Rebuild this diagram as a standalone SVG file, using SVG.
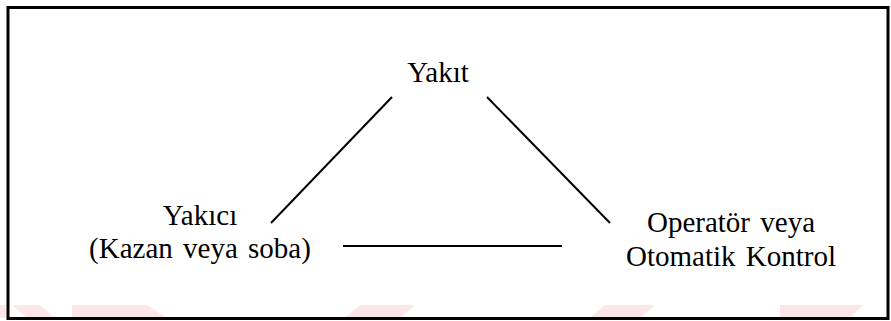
<svg xmlns="http://www.w3.org/2000/svg" width="891" height="321" viewBox="0 0 891 321">
  <style>
    .lbl { font-family: "Liberation Serif", Tinos, "Times New Roman", "DejaVu Serif", serif; font-size: 29px; fill: #000; text-anchor: middle; word-spacing: 3px; }
    .edge { stroke: #000; stroke-width: 2; fill: none; stroke-linecap: butt; }
    .wm { fill: #fce6e9; }
  </style>
  <rect width="891" height="321" fill="#fff"/>
  <g id="watermark">
    <polygon class="wm" points="0,305 8,305 8,318 0,318"/>
    <polygon class="wm" points="12,305 40,305 55,318 27,318"/>
    <polygon class="wm" points="72,305 147,305 167,318 72,318"/>
    <polygon class="wm" points="345,318 400,318 415,305 360,305"/>
    <polygon class="wm" points="590,318 640,318 655,305 605,305"/>
    <polygon class="wm" points="780,318 850,318 863,305 780,305"/>
  </g>
  <rect id="frame" x="8" y="7.5" width="880" height="311" fill="none" stroke="#000" stroke-width="3"/>
  <g id="connectors">
    <line class="edge" x1="392" y1="97" x2="271" y2="223"/>
    <line class="edge" x1="487" y1="97" x2="610" y2="223"/>
    <line class="edge" x1="343" y1="246" x2="562" y2="246" stroke-width="2.5"/>
  </g>
  <g id="node-yakit">
    <text class="lbl" x="438" y="82" font-family="Liberation Serif, serif">Yakıt</text>
  </g>
  <g id="node-yakici">
    <text class="lbl" x="200" y="225">Yakıcı</text>
    <text class="lbl" x="200" y="258">(Kazan veya soba)</text>
  </g>
  <g id="node-operator">
    <text class="lbl" x="731" y="232">Operatör veya</text>
    <text class="lbl" x="731" y="266">Otomatik Kontrol</text>
  </g>
</svg>
